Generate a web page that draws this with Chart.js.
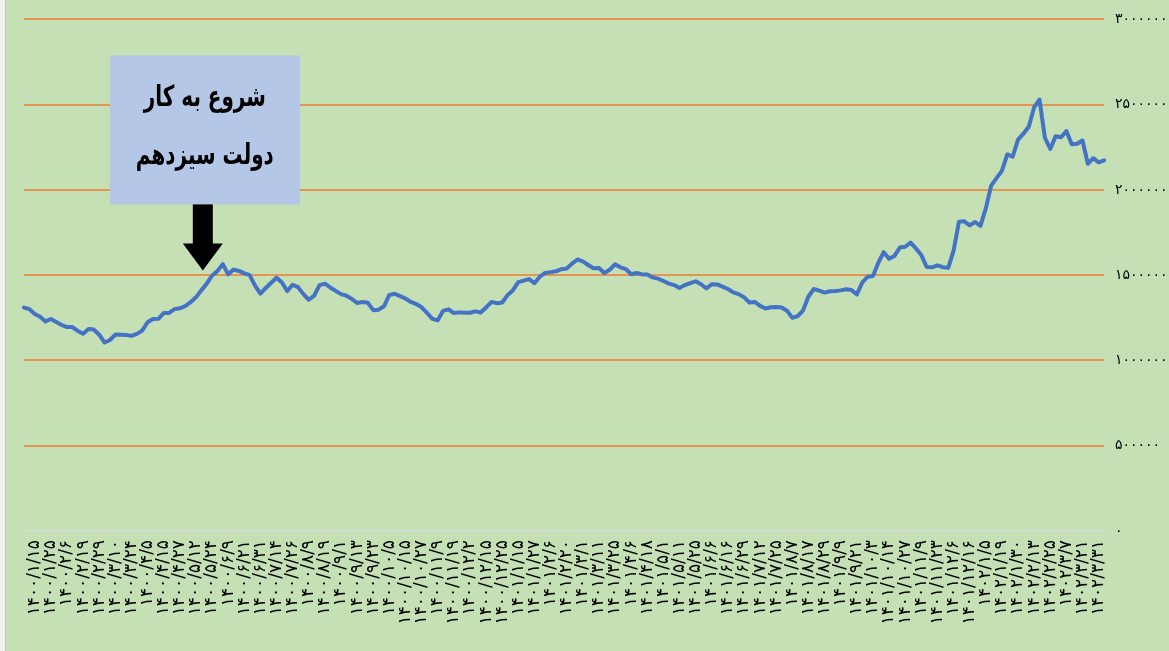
<!DOCTYPE html>
<html><head><meta charset="utf-8">
<script src="https://cdn.jsdelivr.net/npm/chart.js@4.4.1/dist/chart.umd.min.js"></script>
<style>
html,body{margin:0;padding:0;background:#C5E0B4;}
#wrap{position:relative;width:1169px;height:651px;background:#C5E0B4;}
#edge{position:absolute;left:0;top:0;width:5px;height:651px;background:#EEF3EA;border-right:1px solid #C9C9C9;}
canvas{display:block;}
</style></head><body>
<div id="wrap"><canvas id="c" width="1169" height="651"></canvas><div id="edge"></div></div>
<script>
// Date tick labels (shown every few trading-day points)
const tickLabels = [
'۱۴۰۰/۱/۱۵','۱۴۰۰/۱/۲۵','۱۴۰۰/۲/۶','۱۴۰۰/۲/۱۹','۱۴۰۰/۲/۲۹','۱۴۰۰/۳/۱۰','۱۴۰۰/۳/۲۴','۱۴۰۰/۴/۵','۱۴۰۰/۴/۱۵','۱۴۰۰/۴/۲۷',
'۱۴۰۰/۵/۱۲','۱۴۰۰/۵/۲۴','۱۴۰۰/۶/۹','۱۴۰۰/۶/۲۱','۱۴۰۰/۶/۳۱','۱۴۰۰/۷/۱۴','۱۴۰۰/۷/۲۶','۱۴۰۰/۸/۹','۱۴۰۰/۸/۱۹','۱۴۰۰/۹/۱',
'۱۴۰۰/۹/۱۳','۱۴۰۰/۹/۲۳','۱۴۰۰/۱۰/۵','۱۴۰۰/۱۰/۱۵','۱۴۰۰/۱۰/۲۷','۱۴۰۰/۱۱/۹','۱۴۰۰/۱۱/۱۹','۱۴۰۰/۱۲/۲','۱۴۰۰/۱۲/۱۵','۱۴۰۰/۱۲/۲۵',
'۱۴۰۱/۱/۱۵','۱۴۰۱/۱/۲۷','۱۴۰۱/۲/۶','۱۴۰۱/۲/۲۰','۱۴۰۱/۳/۱','۱۴۰۱/۳/۱۱','۱۴۰۱/۳/۲۵','۱۴۰۱/۴/۶','۱۴۰۱/۴/۱۸','۱۴۰۱/۵/۱',
'۱۴۰۱/۵/۱۱','۱۴۰۱/۵/۲۵','۱۴۰۱/۶/۶','۱۴۰۱/۶/۱۶','۱۴۰۱/۶/۲۹','۱۴۰۱/۷/۱۲','۱۴۰۱/۷/۲۵','۱۴۰۱/۸/۷','۱۴۰۱/۸/۱۷','۱۴۰۱/۸/۲۹',
'۱۴۰۱/۹/۹','۱۴۰۱/۹/۲۱','۱۴۰۱/۱۰/۳','۱۴۰۱/۱۰/۱۴','۱۴۰۱/۱۰/۲۷','۱۴۰۱/۱۱/۹','۱۴۰۱/۱۱/۲۳','۱۴۰۱/۱۲/۶','۱۴۰۱/۱۲/۱۶','۱۴۰۲/۱/۵',
'۱۴۰۲/۱/۱۹','۱۴۰۲/۱/۳۰','۱۴۰۲/۲/۱۳','۱۴۰۲/۲/۲۵','۱۴۰۲/۳/۷','۱۴۰۲/۳/۲۱','۱۴۰۲/۳/۳۱'
];

// Index values
const indexValues = [
1310000,1301000,1272000,1256000,1229000,1243000,1225000,1208000,1196000,1196000,
1173000,1157000,1184000,1181000,1151000,1105000,1120000,1152000,1151000,1150000,
1144000,1156000,1175000,1224000,1243000,1244000,1278000,1279000,1301000,1306000,
1319000,1342000,1370000,1411000,1450000,1497000,1525000,1565000,1505000,1533000,
1525000,1511000,1500000,1439000,1392000,1425000,1456000,1485000,1457000,1407000,
1444000,1430000,1389000,1356000,1380000,1442000,1450000,1428000,1408000,1389000,
1380000,1361000,1337000,1343000,1338000,1295000,1298000,1318000,1384000,1391000,
1377000,1363000,1343000,1331000,1312000,1279000,1244000,1235000,1291000,1300000,
1278000,1282000,1280000,1280000,1288000,1281000,1311000,1343000,1336000,1340000,
1383000,1412000,1459000,1468000,1477000,1453000,1491000,1513000,1518000,1523000,
1535000,1539000,1568000,1592000,1581000,1560000,1541000,1542000,1513000,1532000,
1564000,1546000,1536000,1506000,1513000,1506000,1504000,1487000,1480000,1466000,
1451000,1442000,1425000,1442000,1454000,1464000,1447000,1423000,1447000,1446000,
1433000,1419000,1399000,1389000,1371000,1340000,1343000,1320000,1305000,1312000,
1313000,1311000,1292000,1250000,1260000,1294000,1375000,1419000,1409000,1398000,
1406000,1408000,1411000,1418000,1413000,1387000,1456000,1491000,1495000,1573000,
1635000,1596000,1613000,1662000,1667000,1691000,1657000,1618000,1548000,1546000,
1558000,1547000,1543000,1643000,1813000,1816000,1792000,1812000,1789000,1892000,
2025000,2069000,2112000,2208000,2195000,2295000,2330000,2371000,2485000,2529000,
2306000,2240000,2315000,2309000,2345000,2268000,2271000,2290000,2153000,2186000,
2162000,2173000
];

const yTickValues = [0, 500000, 1000000, 1500000, 2000000, 2500000, 3000000];
const yTickLabels = ['۰','۵۰۰۰۰۰','۱۰۰۰۰۰۰','۱۵۰۰۰۰۰','۲۰۰۰۰۰۰','۲۵۰۰۰۰۰','۳۰۰۰۰۰۰'];
const annotationLines = ['شروع به کار','دولت سیزدهم'];
const annotationIndex = 33;
const pointsPerLabel = 3;
const firstLabelIndex = 2;

const labels = indexValues.map((v, i) =>
  (i >= firstLabelIndex && (i - firstLabelIndex) % pointsPerLabel === 0)
    ? (tickLabels[(i - firstLabelIndex) / pointsPerLabel] || '') : '');

const gridPlugin = {
  id: 'orangeGrid',
  beforeDatasetsDraw(chart) {
    const { ctx, chartArea, scales: { y } } = chart;
    ctx.save();
    ctx.strokeStyle = '#ED7D31';
    ctx.lineWidth = 1.5;
    yTickValues.forEach(v => {
      if (v === 0) return;
      const py = Math.round(y.getPixelForValue(v));
      ctx.beginPath();
      ctx.moveTo(chartArea.left, py);
      ctx.lineTo(chartArea.right, py);
      ctx.stroke();
    });
    ctx.restore();
  }
};

const govStartPlugin = {
  id: 'govStart',
  afterDatasetsDraw(chart) {
    const { ctx, chartArea, scales: { x } } = chart;
    const ax = x.getPixelForValue(annotationIndex) + 1.5;
    const boxW = 190, boxH = 149;
    const left = ax - 93;
    const top = chartArea.top + 36;
    ctx.save();
    ctx.fillStyle = '#B4C7E7';
    ctx.fillRect(left, top, boxW, boxH);
    ctx.fillStyle = '#000';
    ctx.direction = 'rtl';
    ctx.textAlign = 'center';
    ctx.textBaseline = 'alphabetic';
    let fs = 30;
    ctx.font = 'bold ' + fs + 'px "DejaVu Sans"';
    const w = ctx.measureText(annotationLines[1]).width;
    if (w > 138) { fs = fs * 138 / w; ctx.font = 'bold ' + fs + 'px "DejaVu Sans"'; }
    const cx = left + boxW / 2;
    [[annotationLines[0], top + 51], [annotationLines[1], top + 109]].forEach(([t, by]) => {
      ctx.save();
      ctx.translate(cx, by);
      ctx.scale(1, 1.45);
      ctx.fillText(t, 0, 0);
      ctx.restore();
    });
    const ay = top + boxH;
    ctx.fillRect(ax - 10, ay, 20, 40);
    ctx.beginPath();
    ctx.moveTo(ax - 20, ay + 39);
    ctx.lineTo(ax + 20, ay + 39);
    ctx.lineTo(ax, ay + 66);
    ctx.closePath();
    ctx.fill();
    ctx.restore();
  }
};

new Chart(document.getElementById('c'), {
  type: 'line',
  data: {
    labels: labels,
    datasets: [{
      data: indexValues,
      borderColor: '#4472C4',
      borderWidth: 4,
      pointRadius: 0,
      tension: 0,
      fill: false,
      borderJoinStyle: 'round',
      borderCapStyle: 'round'
    }]
  },
  options: {
    responsive: false,
    animation: false,
    devicePixelRatio: 1,
    layout: { padding: { left: 24, top: 18, right: 0, bottom: 0 } },
    plugins: { legend: { display: false }, tooltip: { enabled: false } },
    scales: {
      x: {
        type: 'category',
        offset: false,
        grid: { display: false, drawTicks: false },
        border: { display: true, color: '#D9D9D9', width: 1.5 },
        ticks: {
          autoSkip: false, maxRotation: 90, minRotation: 90, padding: 9,
          color: '#000', font: { family: 'DejaVu Sans', size: 17 }
        },
        afterFit(s) { s.height = 120; }
      },
      y: {
        position: 'right',
        min: 0, max: 3000000,
        grid: { display: false, drawTicks: false },
        border: { display: false },
        ticks: {
          stepSize: 500000, padding: 11, color: '#000',
          font: { family: 'DejaVu Sans', size: 14 },
          callback: (v) => yTickLabels[yTickValues.indexOf(v)]
        },
        afterFit(s) { s.width = 65; }
      }
    }
  },
  plugins: [gridPlugin, govStartPlugin]
});
</script>
</body></html>
